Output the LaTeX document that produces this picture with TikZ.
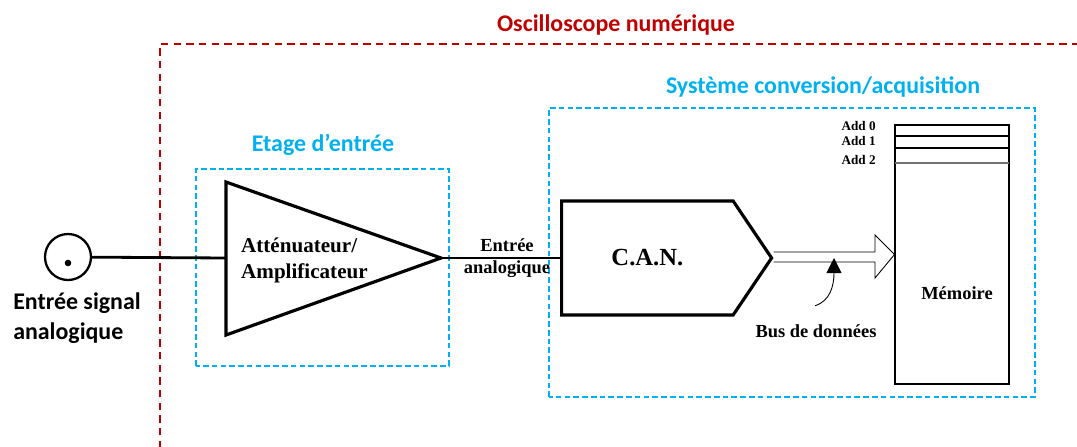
\documentclass[tikz,border=0pt]{standalone}
\usepackage{fontspec}
\setmainfont{Liberation Serif}
\newfontfamily\calibri{Carlito}
\usetikzlibrary{positioning, shapes.symbols, arrows.meta, calc}
\definecolor{oscred}{HTML}{C00000}
\definecolor{stageblue}{HTML}{00B0F0}

\begin{document}
\begin{tikzpicture}[x=0.2mm, y=0.2mm,
  every node/.style={font=\bfseries},
  sanslabel/.style={font=\calibri\bfseries\fontsize{13.6}{17}\selectfont},
  redframe/.style={draw=oscred, line width=1.1pt, dash pattern=on 4.2pt off 3pt},
  blueframe/.style={draw=stageblue, line width=1pt, dash pattern=on 3.2pt off 1.8pt},
  wire/.style={line width=1.6pt},
  addlabel/.style={font=\bfseries\fontsize{7.5}{9}\selectfont, anchor=east, inner sep=0pt}]
\clip (0,0) rectangle (1077,446);

% outer frame: the oscilloscope
\draw[redframe] (160,-2) rectangle (1100,402);
\node[sanslabel, text=oscred] (osc) at (616,421) {Oscilloscope numérique};

% input stage
\draw[blueframe] (196,80) rectangle (449,277);
\node[sanslabel, text=stageblue] (stage) at (323,301) {Etage d’entrée};

% conversion / acquisition
\draw[blueframe] (549,49) rectangle (1035,338);
\node[sanslabel, text=stageblue] (acq) at (823,359) {Système conversion/acquisition};

% input jack
\node[draw, circle, line width=1.3pt, minimum size=9.2mm, inner sep=0] (jack) at (68,189) {};
\fill (68,183) circle (3.3);
\node[sanslabel, align=left] (jacklbl) at (77,128) {Entrée signal\\analogique};

% attenuator / amplifier
\coordinate (ampin) at (226,188);
\coordinate (ampout) at (441,188);
\draw[line width=1.8pt, line join=miter] (226,264) -- (ampout) -- (226,111) -- cycle;
\node[align=left, anchor=west, font=\bfseries\fontsize{12}{14.8}\selectfont] (amplbl) at (235,186) {Atténuateur/\\Amplificateur};
\draw[wire] (jack) -- (ampin);

% ADC
\node[draw, signal, signal to=east, signal pointer angle=112, line width=1.8pt,
  minimum width=42mm, minimum height=22.8mm, inner sep=0, anchor=west,
  font=\bfseries\fontsize{14}{16}\selectfont] (can) at (560,188) {C.A.N.};
\draw[wire] (ampout) -- (can.west);
\node[align=center, font=\bfseries\fontsize{10.5}{12.2}\selectfont] (canin) at (507,188) {Entrée\\analogique};

% memory
\node[draw, line width=0.6pt, minimum width=22.8mm, minimum height=51.8mm, inner sep=0] (mem) at (952,191.5) {};
\draw[line width=0.6pt] (895,310) -- (1009,310);
\draw[line width=0.6pt] (895,298) -- (1009,298);
\draw[line width=0.8pt, black!55] (895,283) -- (1009,283);
\node[font=\bfseries\fontsize{10.5}{12}\selectfont] (memlbl) at (957,153) {Mémoire};
\node[addlabel] (add0) at (876,320) {Add 0};
\node[addlabel] (add1) at (876,305) {Add 1};
\node[addlabel] (add2) at (876,286) {Add 2};

% data bus
\draw[line width=0.5pt, line join=miter] ([yshift=1.2mm]can.east) -- (875,194) -- (875,211) -- (mem.west)
  -- (875,168) -- (875,184) -- ([yshift=-0.8mm]can.east);
\node[font=\bfseries\fontsize{10.5}{12}\selectfont] (bus) at (816,115) {Bus de données};
\coordinate (bustip) at (834,188);
\draw[line width=0.5pt, -{Triangle[length=3mm, width=3mm]}] ([xshift=-0.2mm, yshift=2.5mm]bus.north)
  .. controls (830,145) and (834,160) .. (bustip);
\end{tikzpicture}
\end{document}
